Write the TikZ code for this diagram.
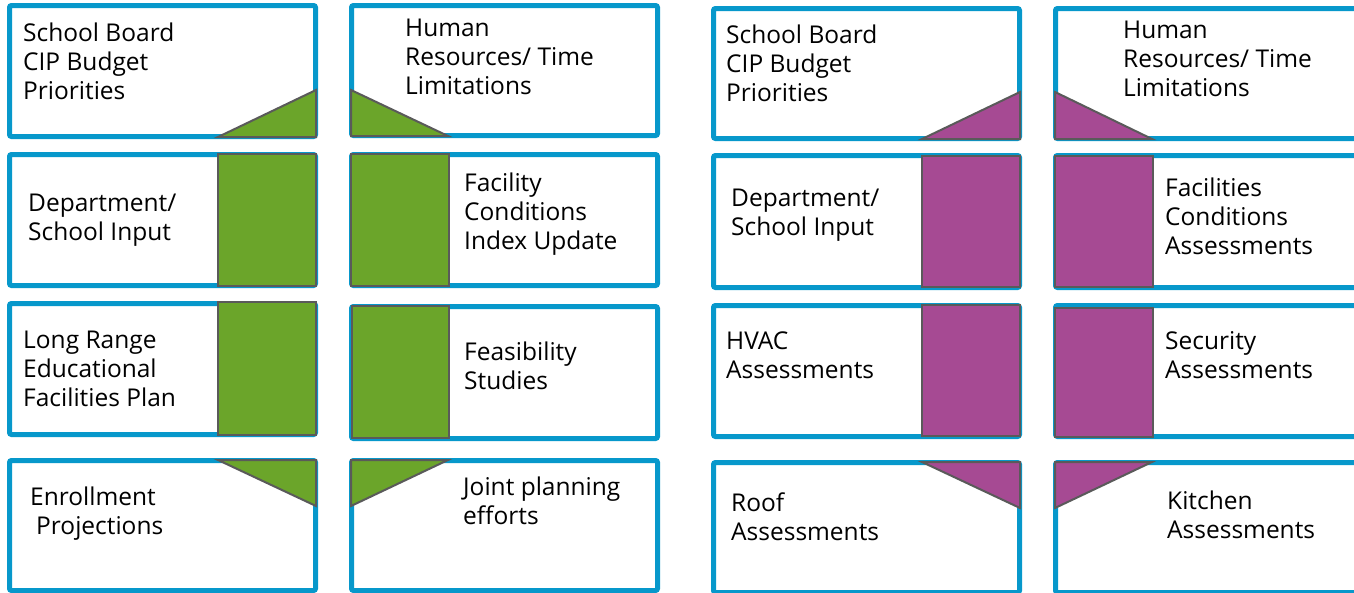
\documentclass[tikz,border=0pt]{standalone}
\usepackage{fontspec}
\setmainfont{Open Sans}
\definecolor{bblue}{HTML}{0798CB}
\definecolor{fgreen}{HTML}{6BA52A}
\definecolor{fpurple}{HTML}{A64A93}
\definecolor{fgray}{HTML}{5A5A5A}
\tikzset{
  box/.style={draw=bblue, line width=5pt, fill=white, rounded corners=2pt, inner sep=0pt, minimum width=306pt},
  gshape/.style={draw=fgray, line width=2pt, fill=fgreen, line join=miter},
  pshape/.style={draw=fgray, line width=2pt, fill=fpurple, line join=miter},
  lbl/.style={anchor=base west, inner sep=0pt, align=left, font=\fontsize{24.5}{29}\selectfont, text=black}
}
\begin{document}
\begin{tikzpicture}[x=1pt,y=-1pt]
\useasboundingbox (0,0) rectangle (1354,592);
% ---- boxes ----
\node[box, minimum height=131pt] (L1r1) at (162.5,71) {};
\node[box, minimum height=130pt] (L2r1) at (504.5,70.5) {};
\node[box, minimum height=131pt] (L1r2) at (162.5,220) {};
\node[box, minimum height=131pt] (L2r2) at (504.5,220) {};
\node[box, minimum height=131pt] (L1r3) at (162.5,369) {};
\node[box, minimum height=132pt] (L2r3) at (504.5,372.5) {};
\node[box, minimum height=130pt] (L1r4) at (162.5,525.5) {};
\node[box, minimum height=130pt] (L2r4) at (504.5,525.5) {};
\node[box, minimum height=130pt] (R1r1) at (866.5,73.5) {};
\node[box, minimum height=130pt] (R2r1) at (1208.5,73.5) {};
\node[box, minimum height=132pt] (R1r2) at (866.5,221.5) {};
\node[box, minimum height=132pt] (R2r2) at (1208.5,221.5) {};
\node[box, minimum height=131pt] (R1r3) at (866.5,371) {};
\node[box, minimum height=131pt] (R2r3) at (1208.5,371) {};
\node[box, minimum height=130pt] (R1r4) at (866.5,527.5) {};
\node[box, minimum height=130pt] (R2r4) at (1208.5,527.5) {};
% ---- green shapes ----
\draw[gshape] (218,137) -- (316,90) -- (316,137) -- cycle;
\draw[gshape] (351,90) -- (351,136) -- (448,136) -- cycle;
\draw[gshape] (218,154) rectangle (316,286);
\draw[gshape] (351,154) rectangle (449,286);
\draw[gshape] (218,302) rectangle (316,435);
\draw[gshape] (352,306) rectangle (449,438);
\draw[gshape] (218,460) -- (316,460) -- (316,506) -- cycle;
\draw[gshape] (351,460) -- (448,460) -- (351,506) -- cycle;
% ---- purple shapes ----
\draw[pshape] (922,139) -- (1020,92) -- (1020,139) -- cycle;
\draw[pshape] (1055,92) -- (1055,139) -- (1152,139) -- cycle;
\draw[pshape] (922,156) rectangle (1020,287);
\draw[pshape] (1055,156) rectangle (1153,287);
\draw[pshape] (922,305) rectangle (1020,436);
\draw[pshape] (1055,308) rectangle (1153,437);
\draw[pshape] (922,462) -- (1020,462) -- (1020,508) -- cycle;
\draw[pshape] (1055,462) -- (1152,462) -- (1055,508) -- cycle;
% ---- labels (anchored at the baseline of the last line) ----
\node[lbl] (tL1r1) at (23,99.5) {School Board\\CIP Budget\\Priorities};
\node[lbl] (tL2r1) at (405,94.5) {Human\\Resources/ Time\\Limitations};
\node[lbl] (tL1r2) at (28,240.5) {Department/\\School Input};
\node[lbl] (tL2r2) at (464,249.5) {Facility\\Conditions\\Index Update};
\node[lbl] (tL1r3) at (23,406.5) {Long Range\\Educational\\Facilities Plan};
\node[lbl] (tL2r3) at (464,389.5) {Feasibility\\Studies};
\node[lbl] (tL1r4) at (30,534.5) {Enrollment\\\hspace*{6pt}Projections};
\node[lbl] (tL2r4) at (463,524.5) {Joint planning\\efforts};
\node[lbl] (tR1r1) at (726,101.5) {School Board\\CIP Budget\\Priorities};
\node[lbl] (tR2r1) at (1123,96.5) {Human\\Resources/ Time\\Limitations};
\node[lbl] (tR1r2) at (731,235.5) {Department/\\School Input};
\node[lbl] (tR2r2) at (1165,254.5) {Facilities\\Conditions\\Assessments};
\node[lbl] (tR1r3) at (726,378.5) {HVAC\\Assessments};
\node[lbl] (tR2r3) at (1165,378.5) {Security\\Assessments};
\node[lbl] (tR1r4) at (731,540.5) {Roof\\Assessments};
\node[lbl] (tR2r4) at (1167,538.5) {Kitchen\\Assessments};
\end{tikzpicture}
\end{document}
